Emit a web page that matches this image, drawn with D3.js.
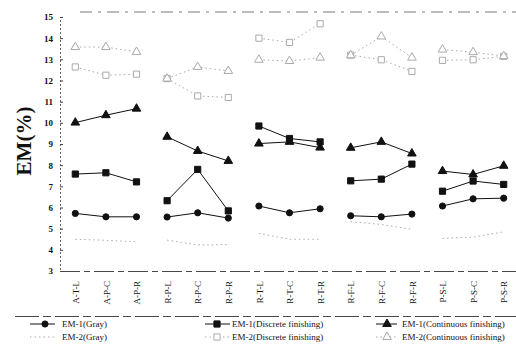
<!DOCTYPE html>
<html lang="en">
<head>
<meta charset="utf-8">
<title>EM chart</title>
<style>
  body { margin: 0; background: #fff; }
  svg { font-family: "Liberation Serif", "DejaVu Serif", serif; }
</style>
</head>
<body>
<svg id="chart" width="516" height="345"></svg>
<script src="https://d3js.org/d3.v7.min.js"></script>
<script>
const categories = ["A-T-L","A-P-C","A-P-R","R-P-L","R-P-C","R-P-R","R-T-L","R-T-C","R-T-R","R-F-L","R-F-C","R-F-R","P-S-L","P-S-C","P-S-R"];
const yTicks = [3,4,5,6,7,8,9,10,11,12,13,14,15];

const em1Gray       = [5.72,5.56,5.56,5.55,5.75,5.50,6.07,5.75,5.94,5.61,5.56,5.69,6.07,6.41,6.44];
const em1Discrete   = [7.58,7.64,7.21,6.32,7.80,5.84,9.85,9.26,9.10,7.26,7.34,8.05,6.77,7.25,7.09];
const em1Continuous = [10.01,10.36,10.67,9.34,8.67,8.20,9.02,9.10,8.83,8.82,9.10,8.55,7.72,7.56,7.97];
const em2Gray       = [4.50,4.45,4.38,4.46,4.23,4.25,4.78,4.50,4.50,5.33,5.20,4.97,4.54,4.60,4.85];
const em2Discrete   = [12.64,12.25,12.30,12.09,11.27,11.20,14.00,13.80,14.68,13.20,12.98,12.43,12.95,12.98,13.14];
const em2Continuous = [13.58,13.58,13.35,12.09,12.64,12.45,12.98,12.92,13.08,13.19,14.08,13.08,13.46,13.34,13.15];

const series = [
  {name: "EM-1(Gray)", values: em1Gray, marker: "circle", solid: true},
  {name: "EM-1(Discrete finishing)", values: em1Discrete, marker: "square", solid: true},
  {name: "EM-1(Continuous finishing)", values: em1Continuous, marker: "triangle", solid: true},
  {name: "EM-2(Gray)", values: em2Gray, marker: "none", solid: false},
  {name: "EM-2(Discrete finishing)", values: em2Discrete, marker: "square", solid: false},
  {name: "EM-2(Continuous finishing)", values: em2Continuous, marker: "triangle", solid: false}
];

const svg = d3.select("#chart");
const x = d3.scalePoint().domain(categories).range([60, 519]).padding(0.5);
const y = d3.scaleLinear().domain([3, 15]).range([271, 17]);

const symbols = {circle: d3.symbolCircle, square: d3.symbolSquare, triangle: d3.symbolTriangle};
const sizes = {circle: 30, square: 38, triangle: 32};

// frame: dashed top border and bottom axis line
svg.append("line").attr("x1", 80).attr("x2", 516).attr("y1", 12).attr("y2", 12)
  .attr("stroke", "#555").attr("stroke-width", 0.8).attr("stroke-dasharray", "12,6,3,6");
svg.append("line").attr("x1", 60).attr("x2", 516).attr("y1", 271.5).attr("y2", 271.5)
  .attr("stroke", "#333").attr("stroke-width", 0.9).attr("stroke-dasharray", "20,4,6,4");

// y axis
const yAxis = svg.append("g").attr("transform", "translate(60,0)")
  .call(d3.axisLeft(y).tickValues(yTicks).tickSize(-3).tickPadding(7));
yAxis.select(".domain").attr("stroke", "#666").attr("stroke-dasharray", "2,2");
yAxis.selectAll(".tick line").attr("stroke", "#444");
yAxis.selectAll("text").attr("font-size", 9).attr("font-weight", "bold")
  .attr("font-family", "Liberation Serif").attr("fill", "#111");

svg.append("text").attr("transform", "translate(31,141) rotate(-90)")
  .attr("text-anchor", "middle").attr("font-size", 21).attr("font-weight", "bold")
  .attr("fill", "#111").text("EM(%)");

// x axis labels
const xAxis = svg.append("g").attr("transform", "translate(0,271)")
  .call(d3.axisBottom(x).tickSize(0).tickPadding(0));
xAxis.select(".domain").remove();
xAxis.selectAll("text")
  .attr("transform", "rotate(-90)")
  .attr("x", -10).attr("y", 0).attr("dy", "0.35em")
  .attr("text-anchor", "end").attr("font-size", 9)
  .attr("font-family", "Liberation Serif").attr("fill", "#111");

// lines, one per group of three categories
const groups = d3.range(5).map(g => d3.range(g * 3, g * 3 + 3));
const line = d3.line().x(i => x(categories[i]));

series.forEach(s => {
  const color = s.solid ? "#111" : "#aaa";
  line.y(i => y(s.values[i]));
  groups.forEach(idx => {
    svg.append("path").attr("d", line(idx)).attr("fill", "none")
      .attr("stroke", color).attr("stroke-width", 1)
      .attr("stroke-dasharray", s.solid ? null : "1.5,3");
  });
  if (s.marker !== "none") {
    svg.append("g").selectAll("path").data(s.values).join("path")
      .attr("transform", (d, i) => `translate(${x(categories[i])},${y(d)})`)
      .attr("d", d3.symbol(symbols[s.marker], sizes[s.marker]))
      .attr("fill", s.solid ? "#111" : "#fff")
      .attr("stroke", color).attr("stroke-width", 1);
  }
});

// legend
svg.append("line").attr("x1", 15).attr("x2", 516).attr("y1", 316.5).attr("y2", 316.5)
  .attr("stroke", "#333").attr("stroke-width", 0.9).attr("stroke-dasharray", "24,4,8,4");
const legendCols = [{lx1: 30, lx2: 55, mx: 45, tx: 62}, {lx1: 205, lx2: 230, mx: 217, tx: 232}, {lx1: 376, lx2: 397, mx: 387, tx: 402}];
const legendRows = [324, 337];
series.forEach((s, k) => {
  const c = legendCols[k % 3], ly = legendRows[Math.floor(k / 3)];
  const color = s.solid ? "#111" : "#aaa";
  svg.append("line").attr("x1", c.lx1).attr("x2", c.lx2).attr("y1", ly).attr("y2", ly)
    .attr("stroke", color).attr("stroke-dasharray", s.solid ? null : "1.5,3");
  if (s.marker !== "none") {
    svg.append("path").attr("transform", `translate(${c.mx},${ly})`)
      .attr("d", d3.symbol(symbols[s.marker], sizes[s.marker]))
      .attr("fill", s.solid ? "#111" : "#fff").attr("stroke", color);
  }
  svg.append("text").attr("x", c.tx).attr("y", ly).attr("dy", "0.35em")
    .attr("font-size", 9).attr("fill", "#111")
    .text(s.name);
});
</script>
</body>
</html>
